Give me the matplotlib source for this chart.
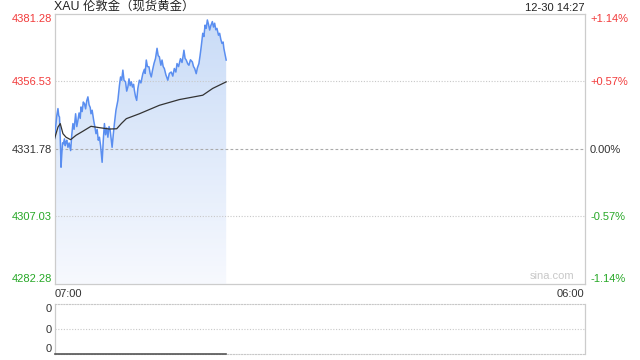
import matplotlib
matplotlib.use("Agg")
import matplotlib.pyplot as plt
import numpy as np
from matplotlib.colors import LinearSegmentedColormap
from matplotlib.patches import Polygon

plt.rcParams['font.family'] = ['Liberation Sans', 'Noto Sans CJK SC', 'DejaVu Sans']

# ---------------- data ----------------
title = "XAU 伦敦金（现货黄金）"
timestamp = "12-30 14:27"
prev_close = 4331.78
y_ticks = [4282.28, 4307.03, 4331.78, 4356.53, 4381.28]
pct_labels = ["-1.14%", "-0.57%", "0.00%", "+0.57%", "+1.14%"]
x_tick_labels = ["07:00", "06:00"]
session_minutes = 1380  # 07:00 -> 06:00 next day

price_minutes = [0, 3, 6, 9, 11, 13, 15, 17, 19, 21, 23, 26, 28, 30, 32, 35, 38,
                 42, 45, 48, 51, 55, 58, 61, 64, 67, 69, 72, 75, 78, 81, 84, 87,
                 90, 93, 95, 98, 102, 105, 108, 111, 114, 117, 120, 124, 127, 130,
                 133, 136, 139, 142, 145, 148, 150, 153, 156, 160, 165, 169, 172,
                 175, 178, 181, 185, 188, 191, 194, 197, 200, 203, 206, 208, 211,
                 214, 217, 221, 225, 230, 234, 236, 239, 242, 246, 249, 252, 255,
                 259, 263, 267, 270, 273, 277, 280, 283, 286, 290, 295, 299, 304,
                 308, 312, 316, 319, 323, 328, 332, 335, 337, 340, 343, 347, 350,
                 354, 359, 362, 365, 369, 372, 376, 379, 382, 386, 389, 392, 395,
                 398, 401, 404, 407, 411, 414, 417, 420, 423, 427, 430, 433, 436,
                 439, 441, 444, 447]
price_values = [4335.5, 4340.0, 4344.0, 4346.6, 4344.0, 4343.5, 4336.0, 4325.1,
                4330.0, 4334.0, 4333.7, 4335.5, 4333.0, 4334.3, 4335.0, 4332.4,
                4334.0, 4331.2, 4337.0, 4341.1, 4339.0, 4344.7, 4340.0, 4342.3,
                4345.0, 4343.0, 4347.2, 4345.5, 4349.0, 4348.4, 4346.5, 4349.5,
                4350.9, 4348.0, 4347.0, 4344.7, 4346.0, 4342.3, 4340.0, 4337.4,
                4339.0, 4335.0, 4336.1, 4333.0, 4326.9, 4335.0, 4341.1, 4337.0,
                4339.5, 4336.1, 4340.0, 4338.6, 4335.0, 4332.4, 4337.0, 4341.1,
                4346.0, 4349.6, 4355.0, 4358.2, 4357.0, 4360.7, 4357.0, 4356.4,
                4353.0, 4354.5, 4357.5, 4355.0, 4356.4, 4354.5, 4355.5, 4353.3,
                4351.0, 4349.6, 4354.0, 4357.0, 4356.0, 4359.4, 4361.0, 4359.5,
                4364.4, 4362.0, 4361.9, 4359.5, 4358.2, 4360.5, 4363.1, 4365.0,
                4368.7, 4366.0, 4365.6, 4362.5, 4364.4, 4362.0, 4361.3, 4359.0,
                4357.0, 4359.5, 4360.0, 4358.5, 4361.3, 4360.0, 4363.1, 4362.0,
                4364.9, 4363.5, 4366.0, 4368.0, 4365.0, 4364.4, 4363.0, 4362.5,
                4364.5, 4363.7, 4362.0, 4361.3, 4359.4, 4361.5, 4363.1, 4366.0,
                4369.3, 4374.2, 4373.0, 4377.2, 4376.0, 4379.1, 4377.5, 4375.4,
                4377.0, 4378.5, 4376.5, 4377.9, 4375.5, 4376.0, 4373.5, 4374.2,
                4372.0, 4370.5, 4371.0, 4368.7, 4366.5, 4364.4]

avg_minutes = [0, 9, 15, 22, 30, 42, 56, 74, 95, 117, 143, 162, 174, 187, 221,
               273, 325, 386, 412, 447]
avg_values = [4335.5, 4339.8, 4341.1, 4337.4, 4336.1, 4335.2, 4336.8, 4338.3,
              4340.1, 4339.6, 4339.1, 4339.2, 4341.1, 4342.9, 4344.7, 4347.8,
              4349.9, 4351.5, 4354.0, 4356.4]

volume_minutes = [0, 447]
volume_values = [0, 0]
volume_tick_labels = ["0", "0", "0"]

# ---------------- style ----------------
RED = "#f23b3b"
GREEN = "#27a827"
DARK = "#333333"
LINE_BLUE = "#5a8ef0"
BORDER = "#cccccc"

W, H = 640, 360
fig = plt.figure(figsize=(6.4, 3.6), dpi=100)

left_px, right_px = 54.5, 584.5
ax = fig.add_axes([left_px / W, (H - 284) / H, (right_px - left_px) / W, 270 / H])
ymin, ymax = y_ticks[0], y_ticks[-1]
ax.set_xlim(0, session_minutes)
ax.set_ylim(ymin, ymax)

# gradient fill under price line
cmap = LinearSegmentedColormap.from_list("fill", ["#f7f9fe", "#c8dbf7"])
grad = np.linspace(0, 1, 256).reshape(-1, 1)
img = ax.imshow(grad, cmap=cmap, aspect="auto", origin="lower",
                extent=[0, session_minutes, ymin, ymax], zorder=1,
                interpolation="bilinear")
poly_pts = [(price_minutes[0], ymin)] + list(zip(price_minutes, price_values)) + \
           [(price_minutes[-1], ymin)]
poly = Polygon(poly_pts, closed=True, facecolor="none", edgecolor="none")
ax.add_patch(poly)
img.set_clip_path(poly)

# grid lines
for v in (y_ticks[1], y_ticks[3]):
    ax.axhline(v, color="#c8c8c8", lw=0.8, ls=(0, (1, 1.5)), zorder=2)
ax.axhline(prev_close, color="#aaaaaa", lw=0.8, ls=(0, (2.5, 2)), zorder=2)

ax.plot(price_minutes, price_values, color=LINE_BLUE, lw=1.1, zorder=4)
ax.plot(avg_minutes, avg_values, color="#333333", lw=0.9, zorder=5)

for s in ax.spines.values():
    s.set_color(BORDER)
    s.set_linewidth(0.9)

label_colors = [GREEN, GREEN, DARK, RED, RED]
ax.set_yticks(y_ticks)
ax.set_yticklabels([f"{v:.2f}" for v in y_ticks], fontsize=8)
ax.tick_params(axis="y", length=0, pad=1.8)
for i, t in enumerate(ax.get_yticklabels()):
    t.set_color(label_colors[i])
ax.get_yticklabels()[0].set_va("bottom")
ax.get_yticklabels()[-1].set_va("top")

ax.set_xticks([0, session_minutes])
ax.set_xticklabels(x_tick_labels, fontsize=8, color=DARK)
ax.tick_params(axis="x", length=0, pad=3.5)
ax.get_xticklabels()[0].set_ha("left")
ax.get_xticklabels()[-1].set_ha("right")

ax2 = ax.twinx()
ax2.set_ylim(ymin, ymax)
ax2.set_yticks(y_ticks)
ax2.set_yticklabels(pct_labels, fontsize=8)
ax2.tick_params(axis="y", length=0, pad=4)
for i, t in enumerate(ax2.get_yticklabels()):
    t.set_color(label_colors[i])
ax2.get_yticklabels()[0].set_va("bottom")
ax2.get_yticklabels()[-1].set_va("top")
for s in ax2.spines.values():
    s.set_visible(False)

ax.text(0.98, 0.012, "sina.com", transform=ax.transAxes, ha="right", va="bottom",
        fontsize=8, color="#c8c8c8")

fig.text(left_px / W, (H - 8) / H, title, fontsize=8.9, color="#222222",
         ha="left", va="center")
fig.text(right_px / W, (H - 8) / H, timestamp, fontsize=8, color="#222222",
         ha="right", va="center")

# ---------------- volume panel ----------------
vax = fig.add_axes([left_px / W, (H - 354) / H, (right_px - left_px) / W, 50 / H])
vax.set_xlim(0, session_minutes)
vax.set_ylim(0, 1)
for side in ("left", "right"):
    vax.spines[side].set_color(BORDER)
    vax.spines[side].set_linewidth(0.9)
for side in ("top", "bottom"):
    vax.spines[side].set_color("#c8c8c8")
    vax.spines[side].set_linestyle((0, (1, 1.5)))
    vax.spines[side].set_linewidth(0.8)
vax.axhline(0.5, color="#c8c8c8", lw=0.8, ls=(0, (1, 1.5)))
vax.plot(volume_minutes, volume_values, color="#555555", lw=1.2, clip_on=False,
         zorder=5)
vax.set_xticks([])
vax.set_yticks([0, 0.5, 1])
vax.set_yticklabels(volume_tick_labels[::-1], fontsize=8, color=DARK)
vax.tick_params(axis="y", length=0, pad=1.8)
vax.get_yticklabels()[0].set_va("bottom")
vax.get_yticklabels()[-1].set_va("top")

fig.savefig("out.png", dpi=100)
